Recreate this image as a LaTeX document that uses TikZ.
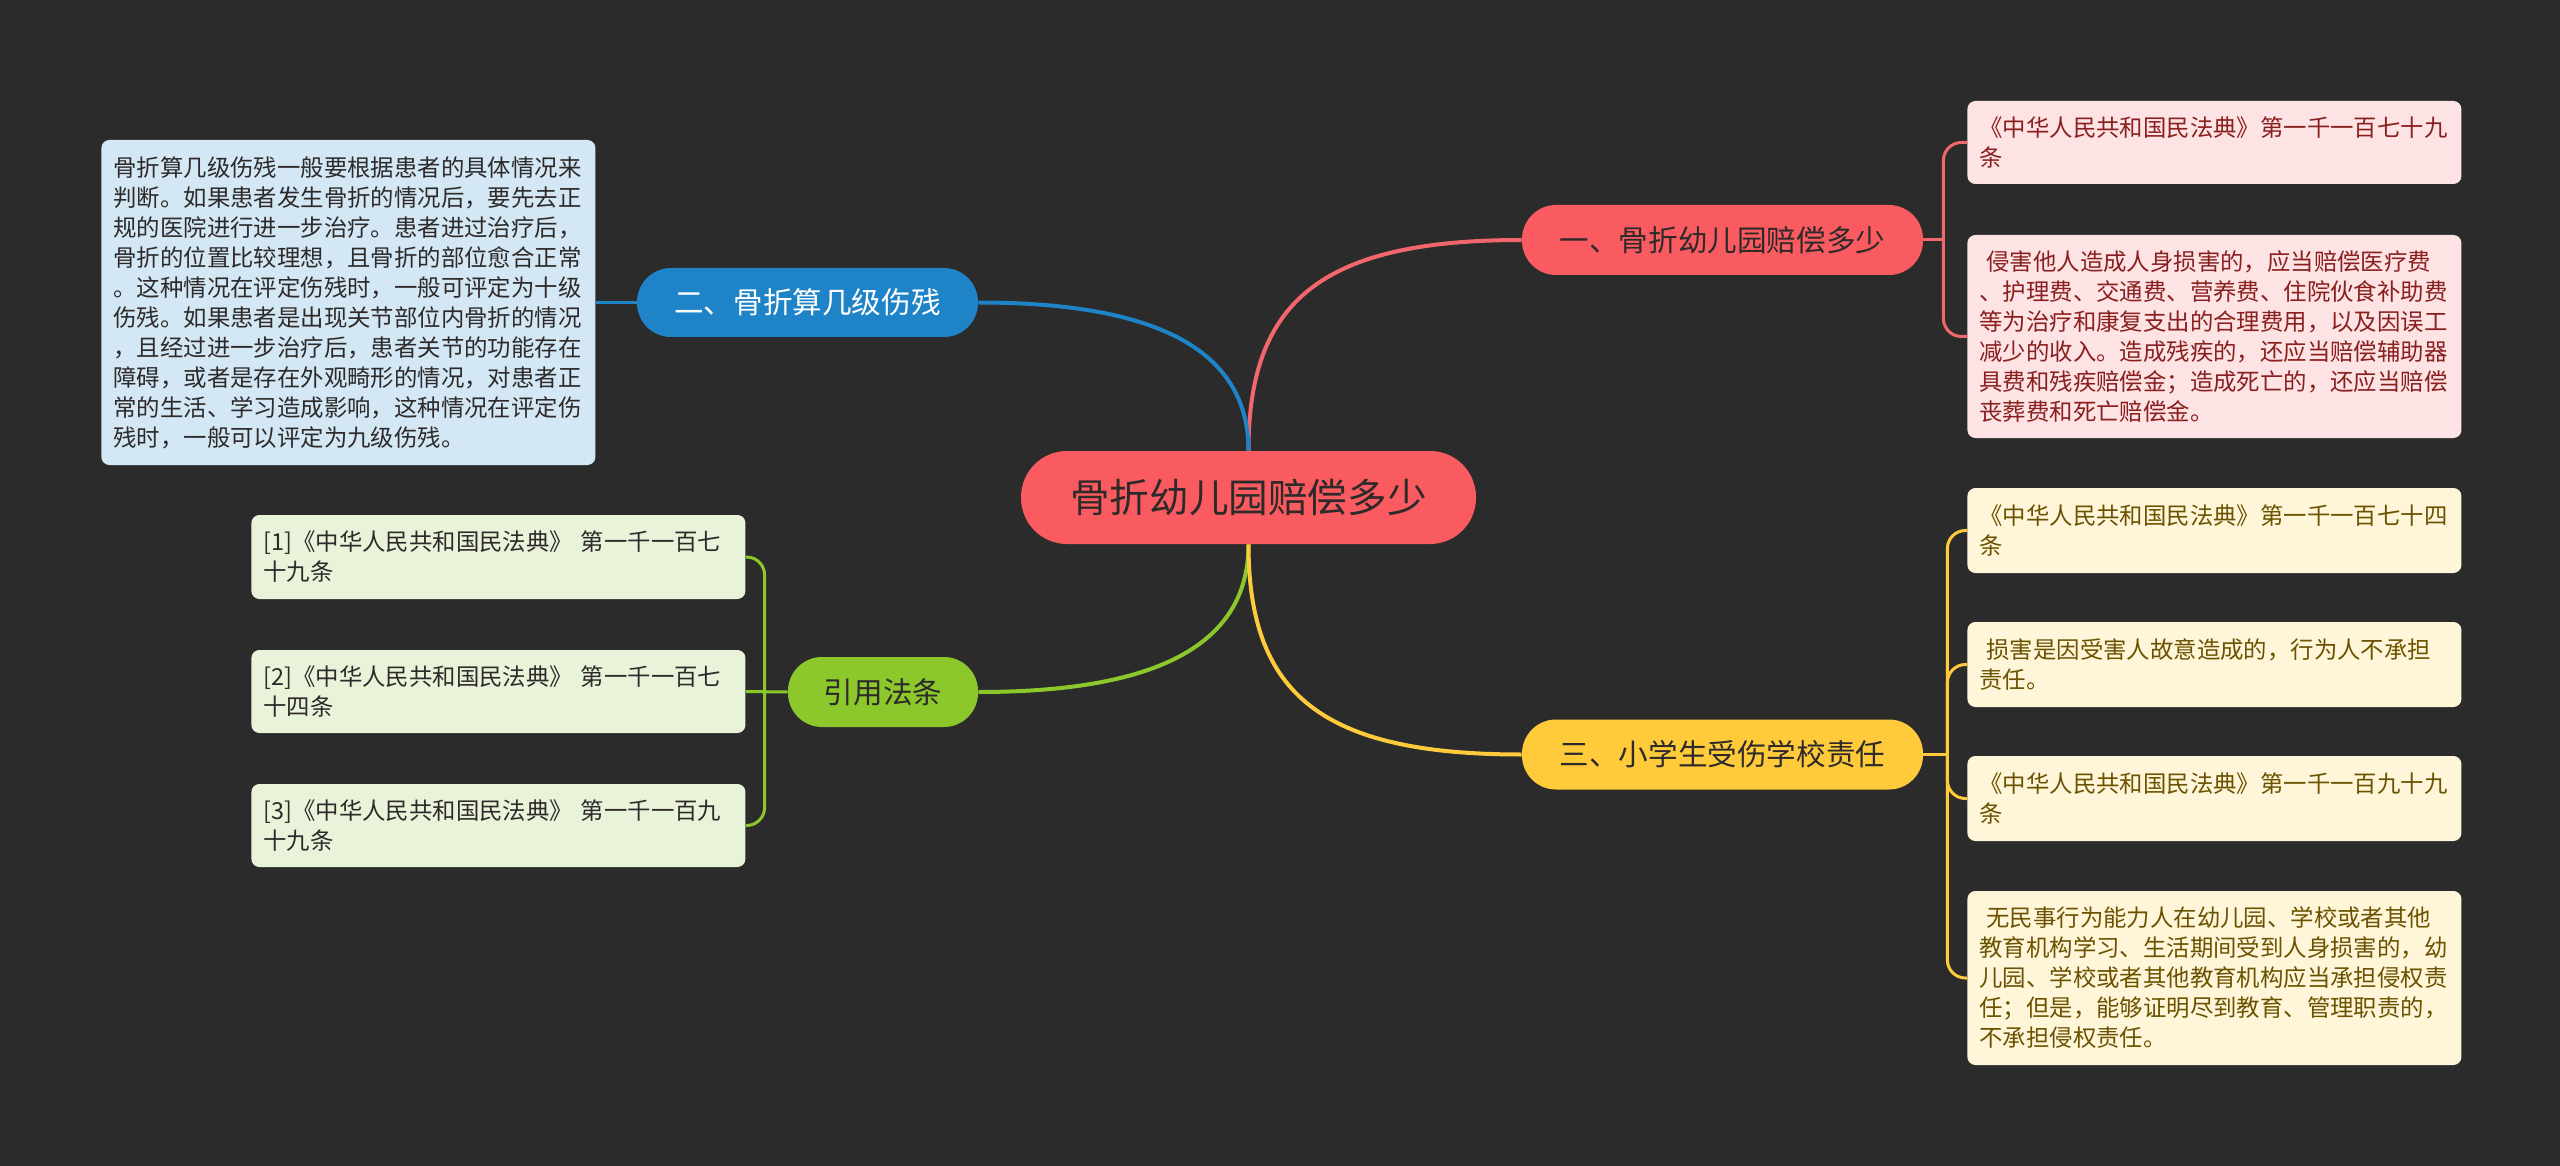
\documentclass[tikz,border=0pt]{standalone}
\usepackage{fontspec}
\setmainfont{Noto Sans CJK SC}
\usepackage{tikz}
\usetikzlibrary{positioning}
\definecolor{bgc}{HTML}{2B2B2B}
\definecolor{redm}{HTML}{FA5B60}
\definecolor{redl}{HTML}{F2676C}
\definecolor{redleaf}{HTML}{FDE3E3}
\definecolor{redtxt}{HTML}{8A1F1F}
\definecolor{bluem}{HTML}{1F84C7}
\definecolor{blueleaf}{HTML}{D3E7F4}
\definecolor{greenm}{HTML}{8CC82C}
\definecolor{greenleaf}{HTML}{E9F3D9}
\definecolor{yelm}{HTML}{FFCB3B}
\definecolor{yelleaf}{HTML}{FFF6D9}
\definecolor{yeltxt}{HTML}{6B5200}
\definecolor{darktxt}{HTML}{2E2A2A}

\begin{document}
\begin{tikzpicture}[x=0.5pt, y=-0.5pt,
  topic/.style={rounded corners=17pt, inner sep=0pt, align=center, font=\fontsize{14.8pt}{18pt}\selectfont},
  leaf/.style={anchor=west, rounded corners=4pt, inner xsep=6pt, inner ysep=0pt, text width=235pt, align=left, font=\fontsize{11.7pt}{15pt}\selectfont},
  link/.style={line width=2pt},
  sublink/.style={line width=1.5pt, rounded corners=9pt}]
\fill[bgc] (0,0) rectangle (2560,1166);

% centre and main topics
\node[topic, fill=redm, text=darktxt, minimum width=227.5pt, minimum height=46.5pt, rounded corners=23pt, font=\fontsize{19.8pt}{24pt}\selectfont] (root) at (1248.5,497.5) {骨折幼儿园赔偿多少};
\node[topic, fill=redm, text=darktxt, minimum width=200.5pt, minimum height=35pt] (b1) at (1722.5,240) {一、骨折幼儿园赔偿多少};
\node[topic, fill=bluem, text=white, minimum width=170.5pt, minimum height=34.5pt] (b2) at (807.5,302.5) {二、骨折算几级伤残};
\node[topic, fill=yelm, text=darktxt, minimum width=200.5pt, minimum height=35pt] (b3) at (1722.5,754.5) {三、小学生受伤学校责任};
\node[topic, fill=greenm, text=darktxt, minimum width=95pt, minimum height=35pt] (b4) at (883,692) {引用法条};

% leaves
\node[leaf, fill=redleaf, text=redtxt, minimum height=41.5pt] (r1) at (1967,142.5) {《中华人民共和国民法典》第一千一百七十九\\条};
\node[leaf, fill=redleaf, text=redtxt, minimum height=101.5pt] (r2) at (1967,336.5) {\hspace*{0.3em}侵害他人造成人身损害的，应当赔偿医疗费\\、护理费、交通费、营养费、住院伙食补助费\\等为治疗和康复支出的合理费用，以及因误工\\减少的收入。造成残疾的，还应当赔偿辅助器\\具费和残疾赔偿金；造成死亡的，还应当赔偿\\丧葬费和死亡赔偿金。};
\node[leaf, fill=blueleaf, text=darktxt, minimum height=162.5pt] (bl) at (101,302.5) {骨折算几级伤残一般要根据患者的具体情况来\\判断。如果患者发生骨折的情况后，要先去正\\规的医院进行进一步治疗。患者进过治疗后，\\骨折的位置比较理想，且骨折的部位愈合正常\\。这种情况在评定伤残时，一般可评定为十级\\伤残。如果患者是出现关节部位内骨折的情况\\，且经过进一步治疗后，患者关节的功能存在\\障碍，或者是存在外观畸形的情况，对患者正\\常的生活、学习造成影响，这种情况在评定伤\\残时，一般可以评定为九级伤残。};
\node[leaf, fill=yelleaf, text=yeltxt, minimum height=42.5pt] (y1) at (1967,530.5) {《中华人民共和国民法典》第一千一百七十四\\条};
\node[leaf, fill=yelleaf, text=yeltxt, minimum height=42.5pt] (y2) at (1967,664.5) {\hspace*{0.3em}损害是因受害人故意造成的，行为人不承担\\责任。};
\node[leaf, fill=yelleaf, text=yeltxt, minimum height=42.5pt] (y3) at (1967,798.5) {《中华人民共和国民法典》第一千一百九十九\\条};
\node[leaf, fill=yelleaf, text=yeltxt, minimum height=87pt] (y4) at (1967,978) {\hspace*{0.3em}无民事行为能力人在幼儿园、学校或者其他\\教育机构学习、生活期间受到人身损害的，幼\\儿园、学校或者其他教育机构应当承担侵权责\\任；但是，能够证明尽到教育、管理职责的，\\不承担侵权责任。};
\node[leaf, fill=greenleaf, text=darktxt, minimum height=42pt] (g1) at (251,557) {[1]《中华人民共和国民法典》 第一千一百七\\十九条};
\node[leaf, fill=greenleaf, text=darktxt, minimum height=41.5pt] (g2) at (251,691.5) {[2]《中华人民共和国民法典》 第一千一百七\\十四条};
\node[leaf, fill=greenleaf, text=darktxt, minimum height=41.5pt] (g3) at (251,825.5) {[3]《中华人民共和国民法典》 第一千一百九\\十九条};

% connectors
\draw[link, redl] (root.north) .. controls +(0,-150) and +(-200,0) .. (b1.west);
\draw[link, bluem] (root.north) .. controls +(0,-110) and +(160,0) .. (b2.east);
\draw[link, greenm] (root.south) .. controls +(0,110) and +(160,0) .. (b4.east);
\draw[link, yelm] (root.south) .. controls +(0,150) and +(-200,0) .. (b3.west);

\draw[sublink, redl] (b1.east) -- ++(20,0) coordinate (rj);
\foreach \n in {r1,r2} \draw[sublink, redl] (rj) |- (\n.west);
\draw[sublink, yelm] (b3.east) -- ++(24,0) coordinate (yj);
\foreach \n in {y1,y2,y3,y4} \draw[sublink, yelm] (yj) |- (\n.west);
\draw[sublink, bluem] (b2.west) -- (bl.east);
\draw[sublink, greenm] (b4.west) -- (g2.east);
\coordinate (gj) at ([xshift=-11.5pt]b4.west);
\foreach \n in {g1,g3} \draw[sublink, greenm] (gj) |- (\n.east);
\end{tikzpicture}
\end{document}
